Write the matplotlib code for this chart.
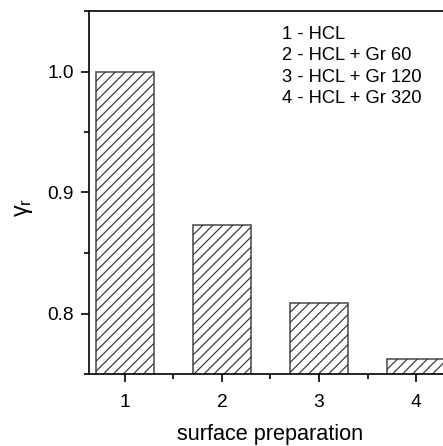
import matplotlib
matplotlib.use('Agg')
import numpy as np
import matplotlib.pyplot as plt
from matplotlib.ticker import MultipleLocator

# Datos
categorias = [1, 2, 3, 4]
gamma_r = [1.000, 0.873, 0.809, 0.762]
leyenda = ['1 - HCL', '2 - HCL + Gr 60', '3 - HCL + Gr 120', '4 - HCL + Gr 320']

plt.rcParams['font.family'] = ['Liberation Sans', 'DejaVu Sans']

dpi = 120
fig = plt.figure(figsize=(443 / dpi, 446 / dpi), dpi=dpi)
ax = fig.add_axes([89 / 443, 72 / 446, 363 / 443, 363 / 446])

barras = ax.bar(categorias, gamma_r, width=0.6, bottom=0, color='white',
                edgecolor='#555555', linewidth=1.0, zorder=2)

ax.set_xlim(0.63, 4.37)
ax.set_ylim(0.75, 1.05)

# rayado a 45 grados (en pixeles), separacion ~10 px
p0 = ax.transData.transform((0, 0))
p1 = ax.transData.transform((1, 1))
sx = p1[0] - p0[0]  # px por unidad x
sy = p1[1] - p0[1]  # px por unidad y
sep = 10 / sx
for b in barras:
    x0, w, h = b.get_x(), b.get_width(), b.get_height()
    y0 = 0.75
    alto_px = (h - y0) * sy
    ancho_px = w * sx
    n = int((alto_px + ancho_px) / 10) + 2
    for k in range(n):
        xs = x0 - alto_px / sx + k * sep
        xx = np.array([xs, xs + (alto_px + 20) / sx])
        yy = y0 + (xx - xs) * sx / sy
        ln, = ax.plot(xx, yy, color='#333333', lw=0.7, zorder=2.5)
        ln.set_clip_path(b)

ax.xaxis.set_major_locator(MultipleLocator(1))
ax.xaxis.set_minor_locator(MultipleLocator(0.5))
ax.yaxis.set_major_locator(MultipleLocator(0.1))
ax.yaxis.set_minor_locator(MultipleLocator(0.05))
ax.tick_params(which='major', direction='out', length=5, width=1.0, labelsize=11.5, pad=4)
ax.tick_params(which='minor', direction='out', length=3, width=1.0)
ax.tick_params(axis='x', which='major', pad=7)
ax.set_yticklabels(['%.1f' % t for t in ax.get_yticks()])

for s in ax.spines.values():
    s.set_linewidth(1.0)

ax.set_xlabel('surface preparation', fontsize=13, labelpad=8)
ax.set_ylabel(r'$\mathregular{\gamma_r}$', fontsize=14)
ax.yaxis.set_label_coords(-0.15, 0.46)

for i, txt in enumerate(leyenda):
    fig.text(282 / 443, 1 - (34.5 + 21.3 * i) / 446, txt, fontsize=11, va='center', ha='left')

fig.savefig('out.png', dpi=dpi)
